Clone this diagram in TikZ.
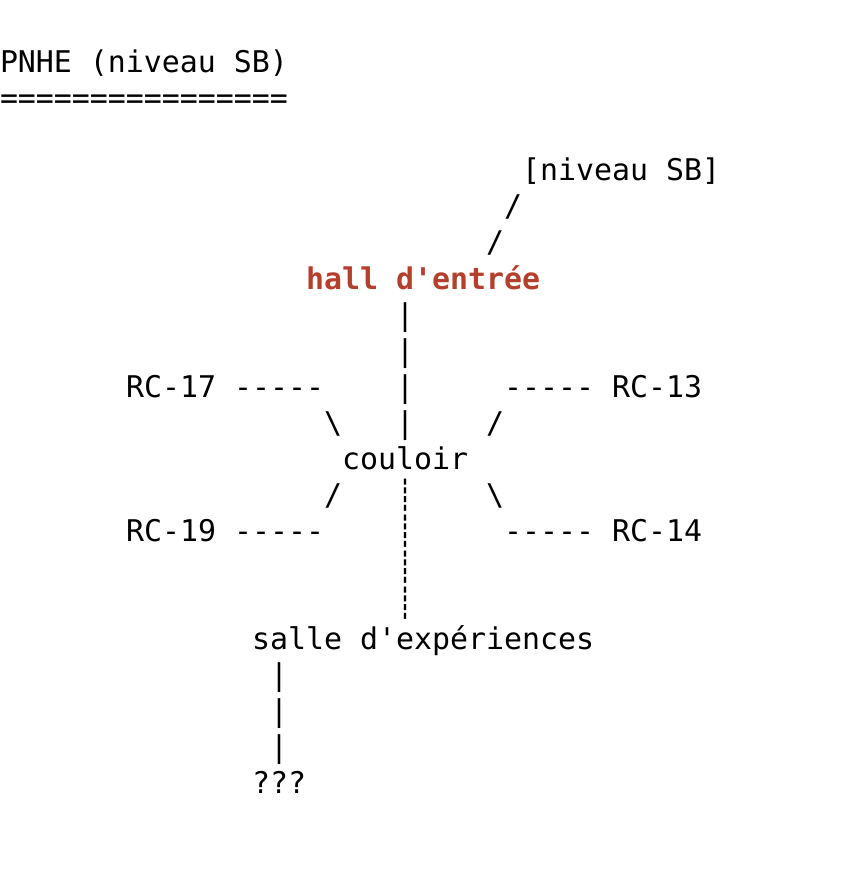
\documentclass[tikz,border=0pt]{standalone}
\usepackage{fontspec}
\newfontfamily\mono{DejaVu Sans Mono}
\definecolor{hallred}{HTML}{B4402C}
\tikzset{
  txt/.style={anchor=base west, inner sep=0pt, outer sep=0pt, font=\mono\fontsize{29.9pt}{36pt}\selectfont, text=black},
  hl/.style={txt, font=\mono\bfseries\fontsize{29.9pt}{36pt}\selectfont, text=hallred}
}
\newcommand{\at}[2]{(#1*18pt, -73pt-#2*36pt+36pt)}
\begin{document}
\begin{tikzpicture}[x=1pt,y=1pt]
\useasboundingbox (0,0) rectangle (856,-890);
\node[txt] (title) at \at{0}{1} {PNHE (niveau SB)};
\node[txt] (eq) at \at{0}{2} {================};
\node[txt] (sb) at \at{29}{4} {[niveau SB]};
\node[txt] (s1) at \at{28}{5} {/};
\node[txt] (s2) at \at{27}{6} {/};
\node[hl] (hall) at \at{17}{7} {hall d\textquotesingle entrée};
\node[txt] (v1) at \at{22}{8} {|};
\node[txt] (v2) at \at{22}{9} {|};
\node[txt] (v3) at \at{22}{10} {|};
\node[txt] (v4) at \at{22}{11} {|};
\node[txt] (rc17) at \at{7}{10} {RC-17};
\node[txt] (d17) at \at{13}{10} {-----};
\node[txt] (d13) at \at{28}{10} {-----};
\node[txt] (rc13) at \at{34}{10} {RC-13};
\node[txt] (b1) at \at{18}{11} {\textbackslash};
\node[txt] (f1) at \at{27}{11} {/};
\node[txt] (couloir) at \at{19}{12} {couloir};
\node[txt] (f2) at \at{18}{13} {/};
\node[txt] (b2) at \at{27}{13} {\textbackslash};
\node[txt] (dv1) at \at{22}{13} {┊};
\node[txt] (dv2) at \at{22}{14} {┊};
\node[txt] (dv3) at \at{22}{15} {┊};
\node[txt] (dv4) at \at{22}{16} {┊};
\node[txt] (rc19) at \at{7}{14} {RC-19};
\node[txt] (d19) at \at{13}{14} {-----};
\node[txt] (d14) at \at{28}{14} {-----};
\node[txt] (rc14) at \at{34}{14} {RC-14};
\node[txt] (salle) at \at{14}{17} {salle d\textquotesingle expériences};
\node[txt] (p1) at \at{15}{18} {|};
\node[txt] (p2) at \at{15}{19} {|};
\node[txt] (p3) at \at{15}{20} {|};
\node[txt] (q) at \at{14}{21} {???};
\end{tikzpicture}
\end{document}
